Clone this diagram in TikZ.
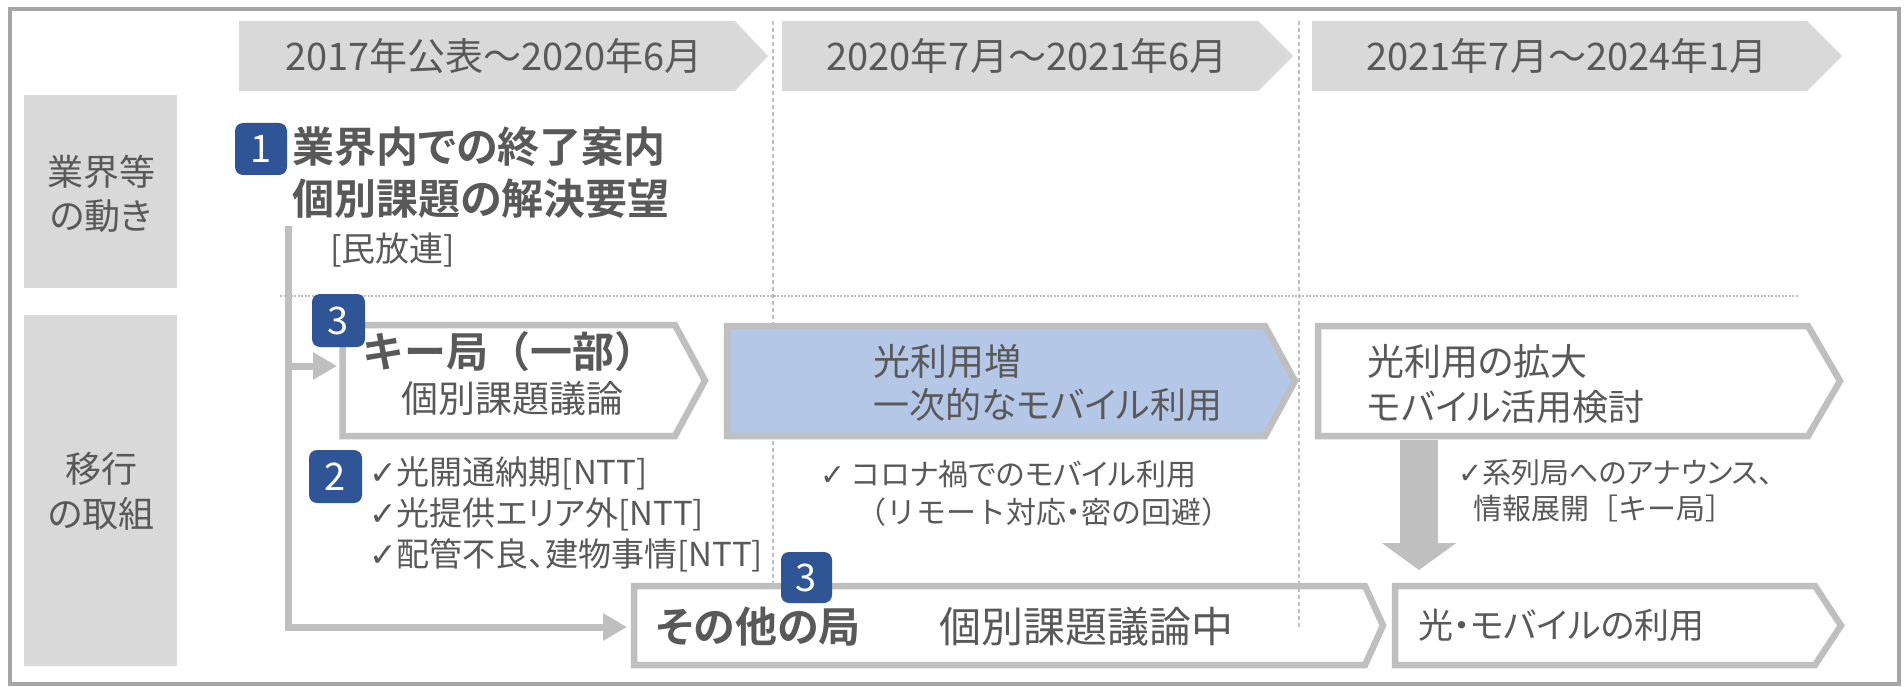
\documentclass[tikz,border=0pt]{standalone}
\usepackage{fontspec}
\setmainfont{Noto Sans CJK JP}[BoldFont={Noto Sans CJK JP Bold}]
\newfontfamily\pk{Noto Sans CJK JP}[RawFeature=+palt, BoldFont={Noto Sans CJK JP Bold}]
\newfontfamily\symf{DejaVu Sans}
\usetikzlibrary{arrows.meta}
\definecolor{tx}{HTML}{595959}
\definecolor{ln}{HTML}{BFBFBF}
\definecolor{hd}{HTML}{D9D9D9}
\definecolor{bl}{HTML}{B4C7E7}
\definecolor{nv}{HTML}{2F5597}
\definecolor{fr}{HTML}{A6A6A6}
\newcommand\myfs[1]{\fontsize{#1}{#1}\selectfont}
\newcommand\ck{{\symf ✓}}
\begin{document}
\begin{tikzpicture}[x=1pt,y=-1pt,
  txt/.style={inner sep=0pt, text=tx, anchor=west},
  ctxt/.style={inner sep=0pt, text=tx, anchor=center},
  hdarrow/.style={fill=hd, draw=none},
  label/.style={fill=hd, draw=none},
  boxline/.style={draw=ln, line width=6.5pt, line join=miter},
  badge/.style={fill=nv, rounded corners=8pt, draw=none},
  bnum/.style={inner sep=0pt, text=white, anchor=center, font=\pk\myfs{38}},
  grid/.style={draw=ln, line width=1.2pt, dash pattern=on 4pt off 3pt},
  hgrid/.style={draw=ln, line width=1.2pt, dash pattern=on 2pt off 1.5pt},
  conn/.style={draw=ln, line width=7pt, line join=miter, -{Triangle[length=24pt,width=26pt]}},
  bigarrow/.style={draw=ln, line width=38pt, -{Triangle[length=27pt,width=73pt]}}
]
\useasboundingbox (0,0) rectangle (1904,687);
\fill[white] (0,0) rectangle (1904,687);

% grid lines
\draw[grid] (773,21) -- (773,583);
\draw[grid] (1299,21) -- (1299,627);
\draw[hgrid] (280,296) -- (1798,296);

% header arrows
\fill[hdarrow] (239,21) -- (735,21) -- (768,56) -- (735,91) -- (239,91) -- cycle;
\fill[hdarrow] (782,21) -- (1258,21) -- (1293,56) -- (1258,91) -- (782,91) -- cycle;
\fill[hdarrow] (1312,21) -- (1807,21) -- (1842,56) -- (1807,91) -- (1312,91) -- cycle;
\node[ctxt, font=\pk\myfs{38}] (h1) at (494,56) {2017年公表～2020年6月};
\node[ctxt, font=\pk\myfs{38}] (h2) at (1027,56) {2020年7月～2021年6月};
\node[ctxt, font=\pk\myfs{38}] (h3) at (1567,56) {2021年7月～2024年1月};

% left labels
\fill[label] (24,95) rectangle (177,288);
\fill[label] (24,315) rectangle (177,666);
\node[ctxt, font=\pk\myfs{36}] (l1a) at (101,172) {業界等};
\node[ctxt, font=\pk\myfs{36}] (l1b) at (101,216) {の動き};
\node[ctxt, font=\pk\myfs{36}] (l2a) at (101,469) {移行};
\node[ctxt, font=\pk\myfs{36}] (l2b) at (101,514) {の取組};

% title
\node[txt, font=\pk\bfseries\myfs{42}] (t1) at (292,147) {業界内での終了案内};
\node[txt, font=\pk\bfseries\myfs{42}] (t2) at (292,199) {個別課題の解決要望};
\node[txt, font=\pk\myfs{34}] (t3) at (330,250) {[民放連]};

% boxes
\draw[boxline, fill=white] (342.5,325) -- (675,325) -- (705,380.5) -- (675,436) -- (342.5,436) -- cycle;
\draw[boxline, fill=bl] (727,326) -- (1265,326) -- (1295,381) -- (1265,436) -- (727,436) -- cycle;
\draw[boxline, fill=white] (1318,326) -- (1808,326) -- (1840,381) -- (1808,436) -- (1318,436) -- cycle;
\draw[boxline] (634,586) -- (1365,586) -- (1383,625.5) -- (1365,665) -- (634,665) -- cycle;
\draw[boxline, fill=white] (1395,586) -- (1815,586) -- (1841,625.5) -- (1815,665) -- (1395,665) -- cycle;

% box texts
\node[txt, font=\bfseries\myfs{42}] (k1) at (362,352) {キー局（一部）};
\node[txt, font=\pk\myfs{37}] (k2) at (401,399) {個別課題議論};
\node[txt, font=\pk\myfs{37}] (b1) at (873,361) {光利用増};
\node[txt, font=\pk\myfs{36}] (b2) at (873,405) {一次的なモバイル利用};
\node[txt, font=\pk\myfs{37}] (r1) at (1367,362) {光利用の拡大};
\node[txt, font=\pk\myfs{36}] (r2) at (1367,407) {モバイル活用検討};
\node[txt, font=\pk\bfseries\myfs{42}] (o1) at (656,627) {その他の局};
\node[txt, font=\pk\myfs{42}] (o2) at (939,627) {個別課題議論中};
\node[txt, font=\pk\myfs{35}] (m1) at (1418,625) {光・モバイルの利用};

% checklists
\node[txt, font=\pk\myfs{33}] (c1) at (369,473) {\ck 光開通納期[NTT]};
\node[txt, font=\pk\myfs{33}] (c2) at (369,514) {\ck 光提供エリア外[NTT]};
\node[txt, font=\pk\myfs{33}] (c3) at (369,555) {\ck 配管不良、建物事情[NTT]};
\node[txt, font=\pk\myfs{30}] (d1) at (820,474) {\ck\ コロナ禍でのモバイル利用};
\node[txt, font=\myfs{30}] (d2) at (856,512) {（リモート対応{\pk ・}密の回避）};
\node[txt, font=\pk\myfs{29}] (e1) at (1458,473) {\ck 系列局へのアナウンス、};
\node[txt, font=\myfs{29}] (e2) at (1473,508) {情報展開［キー局］};

% connectors
\coordinate (vtop) at (288,226);
\coordinate (vbr) at (288,366);
\coordinate (vbot) at (288,627);
\coordinate (kin) at (337,366);
\coordinate (oin) at (627,627);
\draw[conn] (vtop) -- (vbot) -- (oin);
\draw[conn] (vbr) -- (kin);
\coordinate (dtop) at (1419,440);
\coordinate (dbot) at (1419,570);
\draw[bigarrow] (dtop) -- (dbot);

% badges
\fill[badge] (235,123) rectangle (287,175);
\node[bnum] (n1) at (261,149) {1};
\fill[badge] (312,294) rectangle (365,347);
\node[bnum] (n3a) at (338.5,320.5) {3};
\fill[badge] (309,450) rectangle (362,503);
\node[bnum] (n2) at (335.5,476.5) {2};
\fill[badge] (781,552) rectangle (832,603);
\node[bnum] (n3b) at (806.5,577.5) {3};

% frame
\draw[fr, line width=4.5pt] (10,9) rectangle (1899,684);
\end{tikzpicture}
\end{document}
